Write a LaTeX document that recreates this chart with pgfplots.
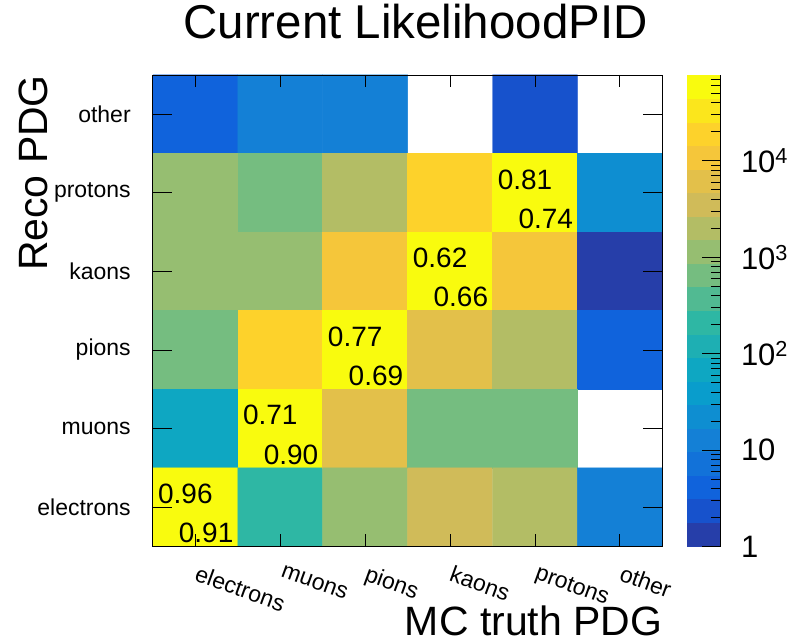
\documentclass[border=0pt]{standalone}
\usepackage{fontspec}
\setmainfont{Liberation Sans}
\usepackage{pgfplots}
\pgfplotsset{compat=1.18}

% counts per cell; matrix plot reverses y, so y=0 is the top row (other)
% and y=5 the bottom row (electrons); nan = empty bin
\pgfplotstableread{
x y n
0 0 4
1 0 12
2 0 12
3 0 nan
4 0 2
5 0 nan
0 1 1140
1 1 650
2 1 2000
3 1 19000
4 1 50000
5 1 22
0 2 1140
1 2 1140
2 2 10800
3 2 48000
4 2 10800
5 2 1
0 3 650
1 3 19000
2 3 54000
3 3 6200
4 3 2000
5 3 4
0 4 68
1 4 52000
2 4 6200
3 4 650
4 4 650
5 4 nan
0 5 56000
1 5 210
2 5 1140
3 5 3500
4 5 2000
5 5 12
}\counts

\pgfplotstableread{
x y lab
-0.44 4.83 0.96
0.56 3.83 0.71
1.56 2.83 0.77
2.56 1.83 0.62
3.56 0.83 0.81
}\efflab

\pgfplotstableread{
x y lab
0.45 5.33 0.91
1.45 4.33 0.90
2.45 3.33 0.69
3.45 2.33 0.66
4.45 1.33 0.74
}\purlab

\begin{document}
\begin{tikzpicture}[x=1pt,y=1pt]
\path (0,0) rectangle (788,644);
\begin{axis}[
  at={(153pt,97pt)}, anchor=south west,
  scale only axis, width=510pt, height=472pt,
  xmin=-0.5, xmax=5.5, ymin=-0.5, ymax=5.5,
  axis on top,
  axis line style={line width=0.8pt},
  title={Current LikelihoodPID},
  title style={at={(axis description cs:0.5157,1.0636)}, anchor=base, inner sep=0pt,
    font=\fontsize{47.5}{50}\selectfont},
  xlabel={MC truth PDG},
  xlabel style={at={(axis description cs:1,-0.1886)}, anchor=base east, inner sep=0pt,
    font=\fontsize{41}{44}\selectfont},
  ylabel={Reco PDG},
  ylabel style={at={(axis description cs:-0.206,1)}, anchor=base east, inner sep=0pt,
    font=\fontsize{41}{44}\selectfont},
  xtick={0,...,5},
  xticklabels={electrons,muons,pions,kaons,protons,other},
  ytick=\empty,
  extra y ticks={0,...,5},
  extra y tick labels={other,protons,kaons,pions,muons,electrons},
  extra y tick style={major tick length=19pt},
  tick align=inside, major tick length=12pt,
  tick style={black, line width=0.8pt},
  xticklabel style={font=\fontsize{23}{25}\selectfont, xshift=4pt, yshift=-18pt,
    rotate=-20, anchor=north west, inner sep=0pt},
  yticklabel style={font=\fontsize{23}{25}\selectfont, anchor=east, inner sep=0pt, xshift=-22pt},
  colormap={bird}{
    rgb=(0.149,0.243,0.664) rgb=(0.0896,0.3204,0.7992) rgb=(0.0629,0.3882,0.8625)
    rgb=(0.0704,0.4458,0.8506) rgb=(0.0779,0.5035,0.8386) rgb=(0.0563,0.5587,0.8198)
    rgb=(0.0344,0.6138,0.8010) rgb=(0.0540,0.6568,0.7622) rgb=(0.1168,0.6871,0.7027)
    rgb=(0.1796,0.7175,0.6431) rgb=(0.3188,0.7302,0.5727) rgb=(0.4587,0.7428,0.5022)
    rgb=(0.5866,0.7460,0.4434) rgb=(0.7020,0.7394,0.3969) rgb=(0.8175,0.7329,0.3504)
    rgb=(0.8887,0.7539,0.2893) rgb=(0.9595,0.7753,0.2280) rgb=(0.9918,0.8248,0.1688)
    rgb=(0.9842,0.9036,0.1116) rgb=(0.9765,0.9824,0.0545)
  },
  colormap access=piecewise constant,
  point meta min=0, point meta max=4.89,
  unbounded coords=jump,
  colorbar,
  colorbar style={
    at={(parent axis.north east)}, anchor=north west, xshift=16pt,
    scale only axis, width=34pt, height=472pt,
    axis y line*=right, axis x line=none,
    ytick={0,1,2,3,4},
    yticklabels={1,10,10\textsuperscript{2},10\textsuperscript{3},10\textsuperscript{4}},
    minor ytick={0.301,0.477,0.602,0.699,0.778,0.845,0.903,0.954,
      1.301,1.477,1.602,1.699,1.778,1.845,1.903,1.954,
      2.301,2.477,2.602,2.699,2.778,2.845,2.903,2.954,
      3.301,3.477,3.602,3.699,3.778,3.845,3.903,3.954,
      4.301,4.477,4.602,4.699,4.778,4.845},
    tick align=inside, ytick pos=right, yticklabel pos=right,
    major tick length=19pt, minor tick length=10pt,
    tick style={black, line width=0.8pt},
    axis line style={line width=0.8pt},
    yticklabel style={font=\fontsize{31}{33}\selectfont, anchor=west, inner sep=0pt, xshift=20pt},
  },
]
\addplot[matrix plot, mesh/cols=6, point meta={ln(\thisrow{n})/ln(10)}] table[x=x, y=y] {\counts};

\addplot[draw=none, mark=none, nodes near coords, point meta=explicit symbolic,
  every node near coord/.style={anchor=west, inner sep=0pt, black,
    font=\fontsize{28}{30}\selectfont}] table[x=x, y=y, meta=lab] {\efflab};
\addplot[draw=none, mark=none, nodes near coords, point meta=explicit symbolic,
  every node near coord/.style={anchor=east, inner sep=0pt, black,
    font=\fontsize{28}{30}\selectfont}] table[x=x, y=y, meta=lab] {\purlab};
\end{axis}
\end{tikzpicture}
\end{document}
